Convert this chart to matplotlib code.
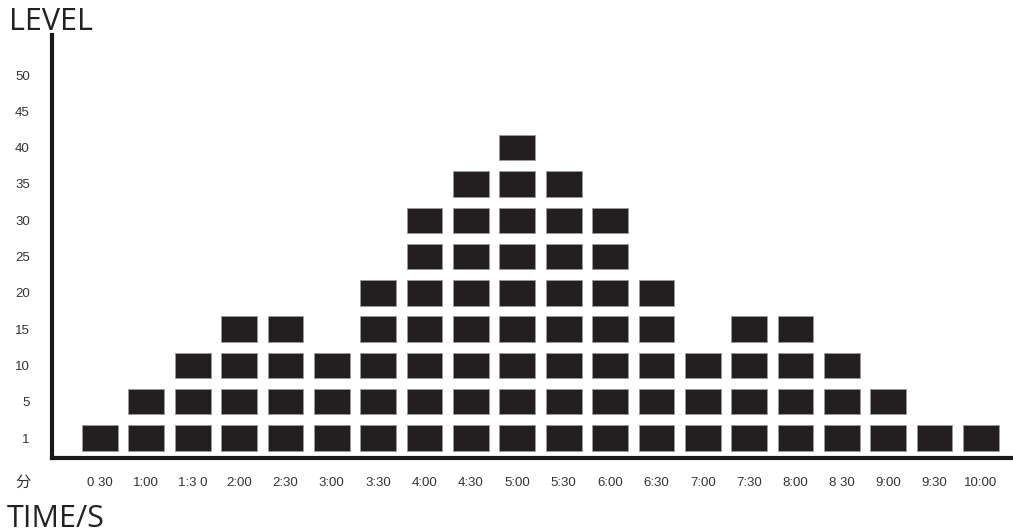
import matplotlib.pyplot as plt

# 时间刻度与每个时段的等级方块数
time_labels = ['0 30', '1:00', '1:3 0', '2:00', '2:30', '3:00', '3:30', '4:00', '4:30', '5:00',
               '5:30', '6:00', '6:30', '7:00', '7:30', '8:00', '8 30', '9:00', '9:30', '10:00']
block_counts = [1, 2, 3, 4, 4, 3, 5, 7, 8, 9, 8, 7, 5, 3, 4, 4, 3, 2, 1, 1]
level_labels = ['1', '5', '10', '15', '20', '25', '30', '35', '40', '45', '50']

plt.rcParams['font.family'] = ['Liberation Sans', 'Noto Sans CJK SC', 'DejaVu Sans']

fig = plt.figure(figsize=(10.13, 5.32), dpi=100)
ax = fig.add_axes([0.0513, 0.139, 0.9487, 0.795])

# 画方块：每列按层堆叠
for row in range(max(block_counts)):
    xs = [i for i, c in enumerate(block_counts) if c > row]
    ax.bar(xs, 0.70, width=0.77, bottom=row - 0.35, color='#231f20',
           edgecolor='#9a9a9a', linewidth=0.6)

ax.set_xlim(-1.035, 19.69)
ax.set_ylim(-0.55, 11.1)
ax.set_xticks(range(len(time_labels)))
ax.set_xticklabels(time_labels, fontsize=9.5, color='#333333')
ax.set_yticks(range(len(level_labels)))
ax.set_yticklabels(level_labels, fontsize=9.5, color='#333333')
ax.tick_params(length=0)
ax.tick_params(axis='y', pad=16)
ax.tick_params(axis='x', pad=14)

for s in ['top', 'right']:
    ax.spines[s].set_visible(False)
for s in ['left', 'bottom']:
    ax.spines[s].set_linewidth(3)
    ax.spines[s].set_color('#1a1a1a')

fig.text(0.009, 0.943, 'LEVEL', fontsize=22, family='Open Sans', color='#222222')
fig.text(0.007, 0.010, 'TIME/S', fontsize=22, family='Open Sans', color='#222222')
fig.text(0.015, 0.085, '分', fontsize=11, family=['Noto Sans CJK SC', 'DejaVu Sans'], color='#333333')

plt.savefig('out.png', dpi=100)
